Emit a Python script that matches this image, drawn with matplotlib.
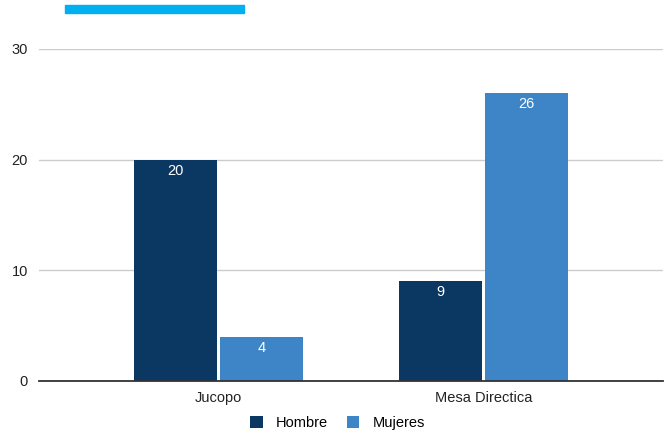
import matplotlib.pyplot as plt
import numpy as np

plt.rcParams['font.family'] = ['Liberation Sans', 'DejaVu Sans']

categorias = ['Jucopo', 'Mesa Directica']
hombre = [20, 9]
mujeres = [4, 26]
yticks = [0, 10, 20, 30]

c_hombre = '#0b3763'
c_mujeres = '#3d85c6'

fig = plt.figure(figsize=(6.69, 4.34), dpi=100)
ax = fig.add_axes([39/669, 1-381/434, 624/669, (381-49)/434])

x = np.arange(len(categorias))
w = 0.313
off = 0.1625
b1 = ax.bar(x - off, hombre, w, color=c_hombre, label='Hombre', zorder=3)
b2 = ax.bar(x + off, mujeres, w, color=c_mujeres, label='Mujeres', zorder=3)

for bars in (b1, b2):
    for r in bars:
        ax.annotate(str(int(r.get_height())), (r.get_x() + r.get_width()/2, r.get_height()),
                    xytext=(0, -11), textcoords='offset pixels', ha='center', va='center',
                    color='white', fontsize=10.5, zorder=4)

ax.set_xlim(-0.677, 1.677)
ax.set_ylim(0, 30)
ax.set_yticks(yticks)
ax.set_xticks(x)
ax.set_xticklabels(categorias)
ax.grid(axis='y', color='#cccccc', linewidth=1, zorder=0)
for s in ['top', 'right', 'left']:
    ax.spines[s].set_visible(False)
ax.spines['bottom'].set_color('#333333')
ax.spines['bottom'].set_linewidth(1.3)
ax.spines['bottom'].set_zorder(5)
ax.tick_params(axis='both', length=0, labelsize=10.5, colors='#222222')
ax.tick_params(axis='y', pad=8)
ax.tick_params(axis='x', pad=7)

# barra decorativa superior
fig.add_artist(plt.Rectangle((65/669, 1-13/434), 179/669, 8/434, color='#00b0f0',
                             transform=fig.transFigure))

fig.legend(handles=[b1, b2], loc='center', bbox_to_anchor=(0.5 + 3/669, 1-423/434), ncol=2,
           frameon=False, fontsize=10.5, handlelength=0.85, handleheight=0.85,
           handletextpad=0.9, columnspacing=1.3)

fig.savefig('out.png', dpi=100)
